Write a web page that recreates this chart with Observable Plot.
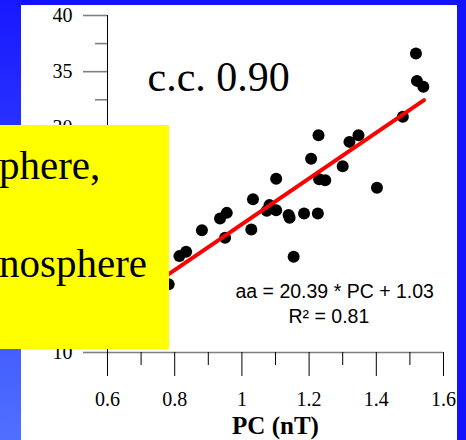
<!DOCTYPE html>
<html>
<head>
<meta charset="utf-8">
<script src="https://cdn.jsdelivr.net/npm/d3@7"></script>
<script src="https://cdn.jsdelivr.net/npm/@observablehq/plot@0.6"></script>
<style>
  body { margin: 0; }
  #wrap { position: relative; width: 466px; height: 440px; background: #1212ff; overflow: hidden; }
  #strip { position: absolute; left: 0; top: 0; width: 21px; height: 440px; background: linear-gradient(#1818ff, #4f70ff); }
  #paper { position: absolute; left: 21px; top: 5px; width: 436px; height: 435px; background: #ffffff; }
  #chart { position: absolute; left: 0; top: 0; }
  #note { position: absolute; left: 0; top: 125px; width: 169px; height: 224px; background: #ffff00; overflow: hidden; }
  #note svg { display: block; }
</style>
</head>
<body>
<div id="wrap">
  <div id="strip"></div>
  <div id="paper"></div>
  <div id="chart"></div>
  <div id="note">
    <svg width="169" height="224">
      <text x="-1" y="54" font-family="'Liberation Serif', 'Times New Roman', serif" font-size="41" fill="black">phere,</text>
      <text x="-1" y="152" font-family="'Liberation Serif', 'Times New Roman', serif" font-size="41" fill="black">nosphere</text>
    </svg>
  </div>
</div>
<script>
// Data
const pc = [1.518, 1.521, 1.540, 1.479, 1.228, 1.347, 1.320, 1.206, 1.300, 1.230,
            1.248, 1.402, 1.102, 1.033, 1.082, 1.074, 1.102, 1.139, 1.142, 1.185,
            1.226, 0.955, 0.935, 0.881, 0.950, 1.028, 1.154, 0.834, 0.814, 0.782];
const aa = [36.62, 34.18, 33.65, 30.98, 29.35, 29.35, 28.75, 27.24, 26.59, 25.43,
            25.34, 24.66, 25.46, 23.65, 23.12, 22.61, 22.67, 22.23, 22.00, 22.37,
            22.37, 22.43, 21.93, 20.89, 20.21, 20.95, 18.52, 18.96, 18.58, 16.08];

const xMajor = [0.6, 0.8, 1, 1.2, 1.4, 1.6];
const xMinor = [0.7, 0.9, 1.1, 1.3, 1.5];
const yMajor = [10, 15, 20, 25, 30, 35, 40];
const yMinor = [12.5, 17.5, 22.5, 27.5, 32.5, 37.5];
// y tick labels not hidden behind the yellow note
const yLabels = [10, 30, 35, 40];

const fitSlope = 20.39;
const fitIntercept = 1.03;
const fitRange = [0.65, 1.542];

const ccText = "c.c. 0.90";
const eqText = "aa = 20.39 * PC + 1.03";
const r2Text = "R² = 0.81";
const xLabel = "PC (nT)";

const points = pc.map((x, i) => ({x, y: aa[i]}));
const fit = fitRange.map(x => ({x, y: fitSlope * x + fitIntercept}));

const serif = "'Liberation Serif', 'Times New Roman', serif";
const sans = "'Liberation Sans', Arial, sans-serif";

const chart = Plot.plot({
  width: 466,
  height: 440,
  marginLeft: 107,
  marginRight: 23,
  marginTop: 15,
  marginBottom: 88,
  x: {domain: [0.6, 1.6]},
  y: {domain: [10, 40]},
  style: {background: "transparent", fontFamily: serif, fontSize: "20px", overflow: "visible", color: "black"},
  marks: [
    Plot.axisY(yMajor, {tickSize: 24, stroke: "#808080", strokeWidth: 1.6, fill: "none", label: null}),
    Plot.axisY(yMinor, {tickSize: 12, stroke: "#808080", strokeWidth: 1.6, fill: "none", label: null}),
    Plot.axisY(yLabels, {tickSize: 24, tickPadding: 11, stroke: "none", fill: "black", fontSize: 20, fontFamily: serif, tickFormat: d => String(d), label: null}),
    Plot.ruleY([10], {stroke: "#808080", strokeWidth: 1.6}),
    Plot.ruleX([0.6], {stroke: "black", strokeWidth: 1}),
    Plot.axisX(xMajor, {tickSize: 24, stroke: "black", strokeWidth: 1, fill: "none", label: null}),
    Plot.axisX(xMinor, {tickSize: 13, stroke: "black", strokeWidth: 1, fill: "none", label: null}),
    Plot.axisX(xMajor, {tickSize: 24, tickPadding: 15, stroke: "none", fill: "black", fontSize: 20, fontFamily: serif, tickFormat: d => String(d), label: null}),
    Plot.dot(points, {x: "x", y: "y", r: 6, fill: "black", stroke: "none"}),
    Plot.line(fit, {x: "x", y: "y", stroke: "#ff0000", strokeWidth: 4}),
    Plot.text([ccText], {text: d => d, frameAnchor: "top-left", dx: 40, dy: 75, lineAnchor: "bottom", textAnchor: "start", fontSize: 42, fontFamily: serif, fill: "black"}),
    Plot.text([eqText], {text: d => d, frameAnchor: "top-left", dx: 128, dy: 282, lineAnchor: "bottom", textAnchor: "start", fontSize: 19.5, fontFamily: sans, fill: "black"}),
    Plot.text([r2Text], {text: d => d, frameAnchor: "top-left", dx: 181, dy: 307, lineAnchor: "bottom", textAnchor: "start", fontSize: 19.5, fontFamily: sans, fill: "black"}),
    Plot.text([xLabel], {text: d => d, frameAnchor: "bottom", dy: 81, lineAnchor: "bottom", textAnchor: "middle", fontSize: 25, fontWeight: "bold", fontFamily: serif, fill: "black"})
  ]
});
document.getElementById("chart").appendChild(chart);
</script>
</body>
</html>
